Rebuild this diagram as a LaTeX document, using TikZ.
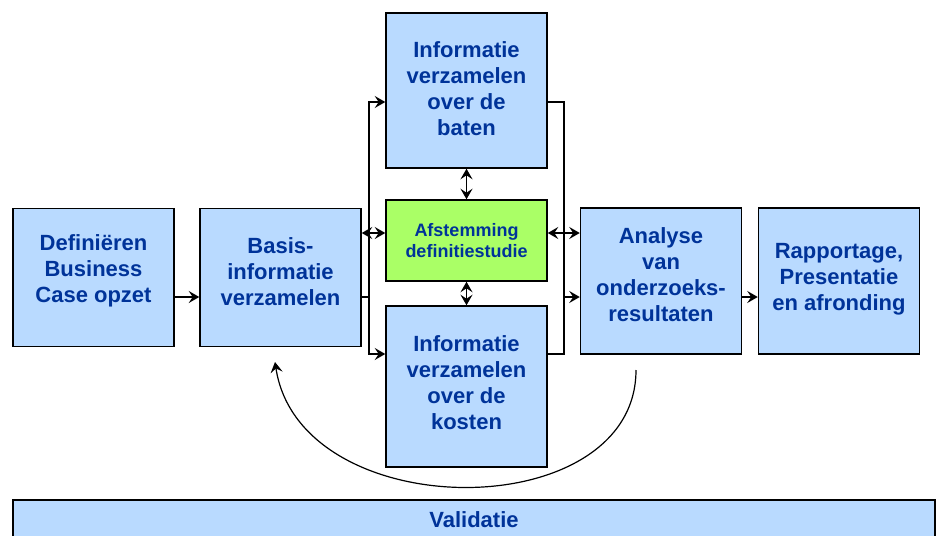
\documentclass[tikz,border=0pt]{standalone}
\usepackage{fontspec}
\setmainfont{Liberation Sans}
\usetikzlibrary{arrows}
\usetikzlibrary{arrows.meta}
\usetikzlibrary{positioning}
\usetikzlibrary{calc}
\definecolor{boxblue}{RGB}{185,218,255}
\definecolor{boxgreen}{RGB}{170,255,102}
\definecolor{textblue}{RGB}{0,51,153}

\begin{document}
\begin{tikzpicture}[x=1pt, y=-1pt]
			\tikzset{step box/.style = {shape=rectangle, line width=1.5pt, draw, fill=boxblue, align=center,
					text=textblue, font=\fontsize{22}{26}\selectfont\bfseries, minimum width=161pt, inner sep=2pt},
				link/.style = {line width=1.5pt, >={Stealth[length=10.5pt,width=12pt,inset=4pt]}}}
			\useasboundingbox (0,0) rectangle (941,535);
			
			\node[step box, minimum height=138pt, text depth=17pt] (DEF) at (93.5,277.5) {Definiëren\\Business\\Case opzet};
			\node[step box, minimum height=138pt, text depth=12pt] (BASIS) at (280.5,277.5) {Basis-\\informatie\\verzamelen};
			\node[step box, minimum height=155pt, text depth=3pt] (BATEN) at (466.5,90.5) {Informatie\\verzamelen\\over de\\baten};
			\node[step box, minimum height=81pt, fill=boxgreen, font=\fontsize{18}{21}\selectfont\bfseries] (AFST) at (466.5,240.5) {Afstemming\\definitiestudie};
			\node[step box, minimum height=161pt, text depth=8pt] (KOSTEN) at (466.5,386.5) {Informatie\\verzamelen\\over de\\kosten};
			\node[step box, minimum height=146pt, text depth=12pt] (ANALYSE) at (661,281) {Analyse\\van\\onderzoeks-\\resultaten};
			\node[step box, minimum height=146pt, text depth=8pt] (RAPP) at (839,281) {Rapportage,\\Presentatie\\en afronding};
			\node[step box, minimum height=40pt, minimum width=922pt] (VALID) at (474,520) {Validatie};
			
			% knooppunten van de verbindingen
			\coordinate (LJ) at (369,297);
			\coordinate (LTOP) at (369,102);
			\coordinate (LBOT) at (369,354);
			\coordinate (RJ) at (564,297);
			\coordinate (RTOP) at (564,102);
			\coordinate (RBOT) at (564,354);
			\coordinate (MID) at (466,233);
			
			\draw[link,->] (DEF.east |- LJ) -- (BASIS.west |- LJ);
			\draw[link] (BASIS.east |- LJ) -- (LJ);
			\draw[link,->] (LJ) -- (LTOP) -- (BATEN.west |- LTOP);
			\draw[link,->] (LJ) -- (LBOT) -- (KOSTEN.west |- LBOT);
			\draw[link] (BATEN.east |- RTOP) -- (RTOP) -- (RBOT) -- (KOSTEN.east |- RBOT);
			\draw[link,->] (RJ) -- (ANALYSE.west |- RJ);
			\draw[link,->] (ANALYSE.east |- RJ) -- (RAPP.west |- RJ);
			\draw[link,<->] (BASIS.east |- MID) -- (AFST.west |- MID);
			\draw[link,<->] (AFST.east |- MID) -- (ANALYSE.west |- MID);
			\draw[link,<->] (BATEN.south) -- (AFST.north);
			\draw[link,<->] (AFST.south) -- (KOSTEN.north);
			
			% terugkoppeling
			\coordinate (BACKSTART) at (636,370);
			\coordinate (BACKEND) at (275,362);
			\draw[link,line width=1.2pt,->] (BACKSTART) .. controls (636,527) and (300,527) .. (BACKEND);
			
\end{tikzpicture}
\end{document}
